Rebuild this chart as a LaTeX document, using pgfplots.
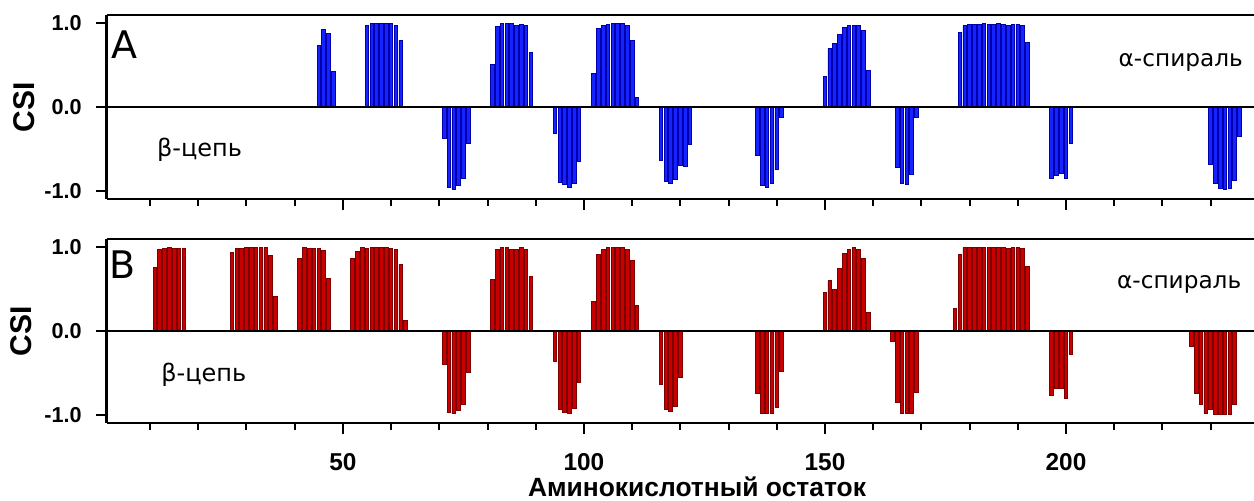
\documentclass[border=0pt]{standalone}
\usepackage{fontspec}
\setmainfont{Liberation Sans}
\newfontfamily\dejavu{DejaVu Sans}
\usepackage{pgfplots}
\usepackage{pgfplotstable}
\pgfplotsset{compat=1.18}
\definecolor{barblue}{RGB}{20,35,255}
\definecolor{edgeblue}{RGB}{0,0,170}
\definecolor{barred}{RGB}{200,0,0}
\definecolor{edgered}{RGB}{125,0,0}

\pgfplotstableread{
x y
45 0.74
46 0.93
47 0.88
48 0.43
55 0.97
56 1.0
57 1.0
58 1.0
59 1.0
60 1.0
61 0.98
62 0.79
71 -0.38
72 -0.96
73 -0.98
74 -0.94
75 -0.86
76 -0.43
81 0.51
82 0.96
83 1.0
84 1.0
85 1.0
86 0.97
87 0.99
88 0.97
89 0.65
94 -0.32
95 -0.90
96 -0.93
97 -0.96
98 -0.92
99 -0.65
102 0.40
103 0.94
104 0.98
105 0.99
106 1.0
107 1.0
108 1.0
109 0.97
110 0.79
111 0.11
116 -0.64
117 -0.89
118 -0.91
119 -0.87
120 -0.70
121 -0.71
122 -0.45
136 -0.58
137 -0.94
138 -0.96
139 -0.92
140 -0.75
141 -0.13
150 0.37
151 0.70
152 0.76
153 0.87
154 0.95
155 0.98
156 0.98
157 0.97
158 0.91
159 0.44
165 -0.72
166 -0.92
167 -0.93
168 -0.81
169 -0.12
178 0.89
179 0.97
180 0.99
181 0.99
182 0.99
183 1.0
184 0.99
185 0.99
186 1.0
187 0.99
188 0.98
189 0.99
190 0.99
191 0.98
192 0.77
197 -0.85
198 -0.82
199 -0.79
200 -0.86
201 -0.43
230 -0.69
231 -0.92
232 -0.97
233 -0.98
234 -0.97
235 -0.88
236 -0.35
}\dataA

\pgfplotstableread{
x y
11 0.76
12 0.97
13 0.99
14 1.0
15 0.99
16 0.99
17 0.99
27 0.94
28 0.99
29 0.99
30 1.0
31 1.0
32 1.0
33 1.0
34 1.0
35 0.90
36 0.41
41 0.87
42 1.0
43 0.99
44 0.99
45 0.99
46 0.96
47 0.63
52 0.87
53 0.95
54 1.0
55 0.99
56 1.0
57 1.0
58 1.0
59 1.0
60 0.99
61 0.97
62 0.79
63 0.13
71 -0.40
72 -0.97
73 -0.99
74 -0.95
75 -0.88
76 -0.50
81 0.62
82 0.98
83 1.0
84 1.0
85 0.98
86 0.98
87 1.0
88 0.98
89 0.65
94 -0.36
95 -0.94
96 -0.97
97 -0.98
98 -0.92
99 -0.61
102 0.35
103 0.91
104 0.98
105 1.0
106 1.0
107 1.0
108 1.0
109 0.98
110 0.84
111 0.31
116 -0.64
117 -0.94
118 -0.96
119 -0.90
120 -0.56
136 -0.75
137 -0.99
138 -0.99
139 -0.98
140 -0.91
141 -0.48
150 0.46
151 0.60
152 0.50
153 0.75
154 0.93
155 0.98
156 1.0
157 0.98
158 0.87
159 0.22
164 -0.13
165 -0.86
166 -0.99
167 -0.99
168 -0.99
169 -0.73
177 0.27
178 0.91
179 1.0
180 1.0
181 1.0
182 1.0
183 1.0
184 1.0
185 1.0
186 1.0
187 1.0
188 0.99
189 1.0
190 1.0
191 0.99
192 0.77
197 -0.77
198 -0.69
199 -0.69
200 -0.81
201 -0.28
226 -0.19
227 -0.75
228 -0.88
229 -0.98
230 -0.94
231 -1.0
232 -1.0
233 -1.0
234 -1.0
235 -0.88
}\dataB

\pgfplotsset{
  panel/.style={
    scale only axis, width=573.65pt, height=92pt,
    anchor=south west,
    xmin=1, xmax=239, ymin=-1.1, ymax=1.1,
    axis x line*=box, axis y line*=left,
    axis line style={-, line width=1.3pt},
    xtick pos=left, ytick pos=left,
    tick align=outside,
    major tick length=5.5pt, minor tick length=3.5pt,
    every tick/.style={black, line width=1pt},
    xtick={50,100,150,200},
    minor xtick={10,20,30,40,60,70,80,90,110,120,130,140,160,170,180,190,210,220,230},
    ytick={-1,0,1}, yticklabels={-1.0,0.0,1.0},
    yticklabel style={font=\fontsize{10.8}{12}\selectfont\bfseries, xshift=-3.5pt},
    xticklabel style={font=\fontsize{12.2}{13}\selectfont\bfseries, yshift=-6pt},
    ybar, bar width=0.75,
  }
}

\begin{document}
\begin{tikzpicture}
\path[use as bounding box] (0,0) rectangle (627pt,250pt);
\begin{axis}[panel, at={(53.35pt,150.5pt)}, xticklabels={}]
\addplot[fill=barblue, draw=edgeblue, line width=0.45pt] table[x=x,y=y] {\dataA};
\draw[line width=0.8pt] (axis cs:1,0) -- (axis cs:239,0);
\end{axis}
\begin{axis}[panel, at={(53.35pt,38.5pt)}, xticklabels={50,100,150,200}]
\addplot[fill=barred, draw=edgered, line width=0.45pt] table[x=x,y=y] {\dataB};
\draw[line width=0.8pt] (axis cs:1,0) -- (axis cs:239,0);
\end{axis}
% panel texts
\node[anchor=base west, inner sep=0, font=\dejavu\fontsize{19}{20}\selectfont] at (55.3pt,221pt) {A};
\node[anchor=base west, inner sep=0, font=\dejavu\fontsize{19}{20}\selectfont] at (54.5pt,111pt) {B};
\node[anchor=base west, inner sep=0, font=\dejavu\fontsize{12}{13}\selectfont] at (78.35pt,171.65pt) {β-цепь};
\node[anchor=base west, inner sep=0, font=\dejavu\fontsize{12}{13}\selectfont] at (80.5pt,59.15pt) {β-цепь};
\node[anchor=base west, inner sep=0, font=\dejavu\fontsize{11.6}{13}\selectfont] at (559.15pt,217pt) {α-спираль};
\node[anchor=base west, inner sep=0, font=\dejavu\fontsize{11.6}{13}\selectfont] at (558.35pt,105.85pt) {α-спираль};
% axis labels
\node[rotate=90, inner sep=0, font=\fontsize{15}{16}\selectfont\bfseries] at (12pt,196.5pt) {CSI};
\node[rotate=90, inner sep=0, font=\fontsize{15}{16}\selectfont\bfseries] at (10.5pt,84.25pt) {CSI};
\node[anchor=base, inner sep=0, font=\fontsize{13.2}{14}\selectfont\bfseries] at (348.5pt,2pt) {Аминокислотный остаток};
\end{tikzpicture}
\end{document}
